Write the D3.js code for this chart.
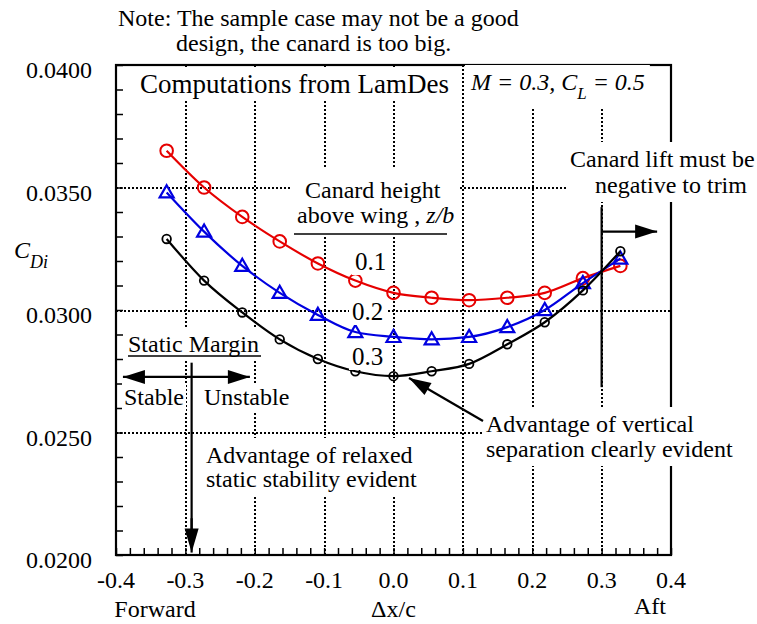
<!DOCTYPE html>
<meta charset="utf-8">
<style>
body { margin: 0; background: #fff; }
text { font-family: "Liberation Serif", "Times New Roman", serif; fill: #000; }
</style>
<script src="https://cdn.jsdelivr.net/npm/d3@7"></script>
<div id="chart"></div>
<script>
// data
var dxc = [-0.327, -0.273, -0.218, -0.164, -0.109, -0.055, 0.0, 0.055, 0.109, 0.164, 0.218, 0.273, 0.327];
var cdiZ01 = [0.0365, 0.0350, 0.0338, 0.0328, 0.0319, 0.0312, 0.0307, 0.0305, 0.0304, 0.0305, 0.0307, 0.0313, 0.0318];
var cdiZ02 = [0.0348, 0.0332, 0.0318, 0.0307, 0.0298, 0.0291, 0.0289, 0.0288, 0.0289, 0.0293, 0.0300, 0.0311, 0.0321];
var cdiZ03 = [0.0329, 0.0312, 0.0299, 0.0288, 0.0280, 0.0275, 0.0273, 0.0275, 0.0278, 0.0286, 0.0295, 0.0308, 0.0324];
var xTicks = [-0.4, -0.3, -0.2, -0.1, 0.0, 0.1, 0.2, 0.3, 0.4];
var yTicks = [0.020, 0.025, 0.030, 0.035, 0.040];

var width = 757, height = 624;
var margin = {top: 65, right: 86, bottom: 69, left: 116};

var svg = d3.select("#chart").append("svg")
    .attr("width", width)
    .attr("height", height);

var x = d3.scaleLinear().domain([-0.4, 0.4]).range([margin.left, width - margin.right]);
var y = d3.scaleLinear().domain([0.02, 0.04]).range([height - margin.bottom, margin.top]);

// dotted grid
svg.append("g")
  .attr("transform", "translate(0," + (height - margin.bottom) + ")")
  .call(d3.axisBottom(x).tickValues(xTicks.slice(1, -1)).tickSize(-(height - margin.top - margin.bottom)).tickFormat(""))
  .call(function(g) { g.select(".domain").remove(); })
  .selectAll("line").attr("stroke", "#000").attr("stroke-width", 2)
    .attr("stroke-dasharray", "2,2").attr("shape-rendering", "crispEdges");
svg.append("g")
  .attr("transform", "translate(" + margin.left + ",0)")
  .call(d3.axisLeft(y).tickValues(yTicks.slice(1, -1)).tickSize(-(width - margin.left - margin.right)).tickFormat(""))
  .call(function(g) { g.select(".domain").remove(); })
  .selectAll("line").attr("stroke", "#000").attr("stroke-width", 2)
    .attr("stroke-dasharray", "2,2").attr("shape-rendering", "crispEdges");

// minor ticks, inside
svg.append("g")
  .attr("transform", "translate(0," + (height - margin.bottom) + ")")
  .call(d3.axisBottom(x).ticks(40).tickSize(-7).tickFormat(""))
  .call(function(g) { g.select(".domain").remove(); })
  .selectAll("line").attr("stroke-width", 1.5);
svg.append("g")
  .attr("transform", "translate(" + margin.left + ",0)")
  .call(d3.axisLeft(y).ticks(20).tickSize(-7).tickFormat(""))
  .call(function(g) { g.select(".domain").remove(); })
  .selectAll("line").attr("stroke-width", 1.5);

// frame
svg.append("rect")
  .attr("x", margin.left).attr("y", margin.top)
  .attr("width", width - margin.left - margin.right)
  .attr("height", height - margin.top - margin.bottom)
  .attr("fill", "none").attr("stroke", "#000").attr("stroke-width", 2.2);

// tick labels
svg.append("g").selectAll("text").data(yTicks).enter().append("text")
  .attr("x", 92).attr("y", function(d) { return y(d) + 13; })
  .attr("text-anchor", "end").style("font-size", "24px")
  .text(function(d) { return d.toFixed(4); });
svg.append("g").selectAll("text").data(xTicks).enter().append("text")
  .attr("x", function(d) { return x(d); }).attr("y", 588)
  .attr("text-anchor", "middle").style("font-size", "24px")
  .text(function(d) { return d.toFixed(1); });

svg.append("text").attr("x", 155).attr("y", 617).attr("text-anchor", "middle").style("font-size", "24px").text("Forward");
svg.append("text").attr("x", x(0)).attr("y", 617).attr("text-anchor", "middle").style("font-size", "24px").text("\u0394x/c");
svg.append("text").attr("x", 650).attr("y", 614).attr("text-anchor", "middle").style("font-size", "24px").text("Aft");

var yl = svg.append("text").attr("x", 14).attr("y", 258).style("font-size", "24px").style("font-style", "italic");
yl.append("tspan").text("C");
yl.append("tspan").attr("dy", 10).style("font-size", "18px").text("Di");

// curves
var line = d3.line()
  .x(function(d) { return x(d[0]); })
  .y(function(d) { return y(d[1]); })
  .curve(d3.curveMonotoneX);

var series = [
  {vals: cdiZ01, color: "#e60000", mark: "bigcircle"},
  {vals: cdiZ02, color: "#0000e0", mark: "triangle"},
  {vals: cdiZ03, color: "#000000", mark: "circle"}
];

series.forEach(function(s) {
  var pts = d3.zip(dxc, s.vals);
  svg.append("path").datum(pts)
    .attr("d", line).attr("fill", "none")
    .attr("stroke", s.color).attr("stroke-width", 2.2);
  var g = svg.append("g");
  if (s.mark == "triangle") {
    g.selectAll("path").data(pts).enter().append("path")
      .attr("d", d3.symbol().type(d3.symbolTriangle).size(85))
      .attr("transform", function(d) { return "translate(" + x(d[0]) + "," + (y(d[1]) + 1) + ")"; })
      .attr("fill", "none").attr("stroke", s.color).attr("stroke-width", 2.2);
  } else {
    g.selectAll("circle").data(pts).enter().append("circle")
      .attr("cx", function(d) { return x(d[0]); })
      .attr("cy", function(d) { return y(d[1]); })
      .attr("r", s.mark == "bigcircle" ? 6.3 : 4.3)
      .attr("fill", "none").attr("stroke", s.color)
      .attr("stroke-width", s.mark == "bigcircle" ? 2 : 1.8);
  }
});

// text blocks with white backgrounds
function block(lines, pad) {
  var g = svg.append("g");
  var bg = g.append("rect").attr("fill", "#fff");
  lines.forEach(function(l) {
    var t = g.append("text").attr("x", l.x).attr("y", l.y).style("font-size", (l.size || 24) + "px");
    (l.parts || [{t: l.t}]).forEach(function(p) {
      var ts = t.append("tspan").text(p.t);
      if (p.italic) ts.style("font-style", "italic");
      if (p.dy) ts.attr("dy", p.dy);
      if (p.small) ts.style("font-size", "17px");
    });
  });
  var b = g.node().getBBox();
  bg.attr("x", b.x - pad[0]).attr("y", b.y - pad[1])
    .attr("width", b.width + 2 * pad[0]).attr("height", b.height + 2 * pad[1]);
  return g;
}

block([{x: 118, y: 26, t: "Note: The sample case may not be a good"},
       {x: 176, y: 51, t: "design, the canard is too big."}], [0, 0]);
block([{x: 140, y: 93, size: 27, t: "Computations from LamDes"}], [4, 2]);
block([{x: 471, y: 90, parts: [{t: "M = 0.3, C", italic: true}, {t: "L", italic: true, small: true, dy: 9}, {t: " = 0.5", italic: true, dy: -9}]}], [5, 4]);
block([{x: 305, y: 198, t: "Canard height"},
       {x: 297, y: 223, parts: [{t: "above wing , "}, {t: "z/b", italic: true}]}], [5, 8]);
block([{x: 355, y: 270, size: 25, t: "0.1"}], [3, 0]);
block([{x: 352, y: 320, size: 25, t: "0.2"}], [3, 0]);
block([{x: 352, y: 365, size: 25, t: "0.3"}], [3, 0]);
block([{x: 128, y: 352, t: "Static Margin"}], [2, 2]);
block([{x: 124, y: 405, t: "Stable"}], [2, 1]);
block([{x: 204, y: 405, t: "Unstable"}], [2, 1]);
block([{x: 206, y: 463, t: "Advantage of relaxed"},
       {x: 206, y: 487, t: "static stability evident"}], [5, 4]);
block([{x: 486, y: 432, t: "Advantage of vertical"},
       {x: 486, y: 457, t: "separation clearly evident"}], [4, 4]);
block([{x: 570, y: 167, t: "Canard lift must be"},
       {x: 595, y: 193, t: "negative to trim"}], [3, 4]);

// underlines
svg.append("line").attr("x1", 294).attr("x2", 447).attr("y1", 234).attr("y2", 234).attr("stroke", "#000").attr("stroke-width", 1.6);
svg.append("line").attr("x1", 128).attr("x2", 261).attr("y1", 356).attr("y2", 356).attr("stroke", "#000").attr("stroke-width", 1.6);

// arrows
function arrow(x1, y1, x2, y2, head, half, both) {
  svg.append("line").attr("x1", x1).attr("y1", y1).attr("x2", x2).attr("y2", y2)
    .attr("stroke", "#000").attr("stroke-width", 2.2);
  function headAt(px, py, qx, qy) {
    var a = Math.atan2(py - qy, px - qx);
    var bx = px - head * Math.cos(a), by = py - head * Math.sin(a);
    svg.append("path")
      .attr("d", "M" + px + "," + py +
                 "L" + (bx + half * Math.sin(a)) + "," + (by - half * Math.cos(a)) +
                 "L" + (bx - half * Math.sin(a)) + "," + (by + half * Math.cos(a)) + "Z")
      .attr("fill", "#000");
  }
  headAt(x2, y2, x1, y1);
  if (both) headAt(x1, y1, x2, y2);
}

// canard lift limit
svg.append("line").attr("x1", x(0.3)).attr("x2", x(0.3)).attr("y1", y(0.0342)).attr("y2", y(0.02685))
  .attr("stroke", "#000").attr("stroke-width", 2.2);
arrow(x(0.3), y(0.0332), x(0.38), y(0.0332), 22, 7);

// static margin
svg.append("line").attr("x1", x(-0.291)).attr("x2", x(-0.291)).attr("y1", y(0.02785)).attr("y2", y(0.0203))
  .attr("stroke", "#000").attr("stroke-width", 2.2);
arrow(x(-0.291), y(0.0215), x(-0.291), y(0.0201), 24, 7);
arrow(x(-0.39), y(0.02727), x(-0.207), y(0.02727), 22, 7, true);

// vertical separation pointer
arrow(483, 421, 409, 378, 22, 7);
</script>
